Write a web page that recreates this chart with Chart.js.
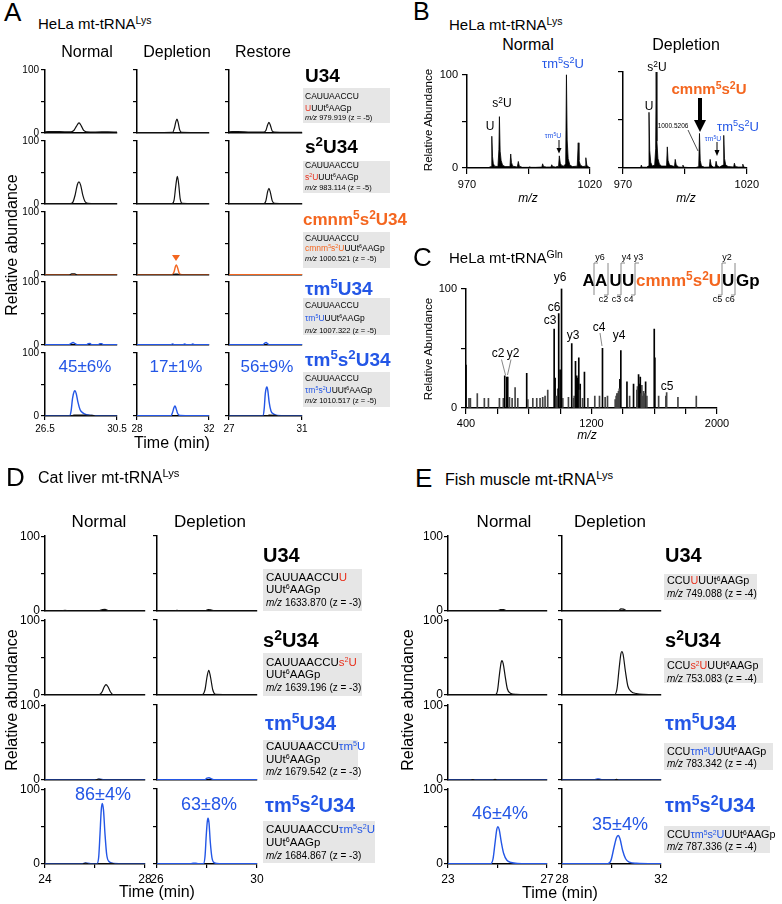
<!DOCTYPE html>
<html><head><meta charset="utf-8">
<script src="https://cdn.jsdelivr.net/npm/chart.js@4.4.1/dist/chart.umd.min.js"></script>
<style>
html,body{margin:0;padding:0;background:#fff;}
#fig{position:relative;width:782px;height:904px;overflow:hidden;background:#fff;font-family:'Liberation Sans',Arial,Helvetica,sans-serif;color:#000;}
#fig canvas{position:absolute;}
.t{position:absolute;white-space:nowrap;line-height:1;}
.t sup{font-size:0.7em;vertical-align:0.5em;line-height:0;}
.t.bx sup{font-size:0.62em;}
.box{position:absolute;background:#e6e6e6;}
.r{color:#e8301c}.o{color:#f4661f}.bl{color:#2356e6}
#ov{position:absolute;left:0;top:0;}
</style></head><body><div id="fig"></div>
<script>
// ================= DATA =================
const yTicks = [0, 50, 100];
const yTickLabels = ['0', '', '100'];

// ---- Panel A (HeLa) : time ranges / ticks ----
const A_xTicks = [[26.5, 30.5], [28, 32], [27, 31]];
const A_xTickLabels = [['26.5', '30.5'], ['28', '32'], ['27', '31']];
const A_percent = ['45±6%', '17±1%', '56±9%'];

const A_U34_normal = [[26.5,2],[27.0,2.3],[27.6,2],[27.95,2],[28.1,4],[28.25,11],[28.39,16],[28.52,11],[28.65,4],[28.8,2],[29.3,1.5],[30.0,1.8],[30.5,1.5]];
const A_U34_depletion = [[28,0.8],[29.5,0.8],[29.98,1],[30.08,8],[30.16,18],[30.22,22],[30.29,16],[30.37,5],[30.48,1],[31,0.8],[32,0.8]];
const A_U34_restore = [[27,2],[27.5,2.2],[28.2,1.5],[28.9,1.5],[29.02,4],[29.12,13],[29.19,17],[29.27,12],[29.37,3],[29.5,1.5],[30.2,1.2],[31,1.2]];

const A_s2U34_normal = [[26.5,0.5],[27.9,0.5],[28.05,3],[28.18,15],[28.3,31],[28.39,35],[28.48,30],[28.6,14],[28.72,4],[28.9,1],[29.3,0.5],[30.5,0.5]];
const A_s2U34_depletion = [[28,0.5],[29.95,0.5],[30.06,6],[30.16,30],[30.24,44],[30.31,33],[30.4,8],[30.52,1],[32,0.5]];
const A_s2U34_restore = [[27,0.5],[28.9,0.5],[29.02,5],[29.12,20],[29.19,25],[29.27,18],[29.37,5],[29.5,1],[31,0.5]];

const A_cmnm_normal = [[26.5,0.5],[30.5,0.5]];
const A_cmnm_normal_bk = [[26.5,0],[27.85,0],[27.98,1.8],[28.15,1.8],[28.3,0],[30.5,0]];
const A_cmnm_depletion = [[28,0.5],[29.95,0.5],[30.06,5],[30.14,14],[30.19,16],[30.26,11],[30.36,2],[30.5,0.5],[32,0.5]];
const A_cmnm_depletion_bk = [[28,0],[29.98,0],[30.1,1.5],[30.25,1.5],[30.35,0],[32,0]];
const A_cmnm_restore = [[27,0.5],[31,0.5]];

const A_tm5U_normal = [[26.5,0.3],[27.8,0.3],[27.95,2.5],[28.06,4],[28.18,2],[28.3,0.3],[28.8,0.3],[28.9,2],[29.0,2.3],[29.1,0.3],[29.45,0.3],[29.55,2],[29.65,2],[29.75,0.3],[30.5,0.3]];
const A_tm5U_depletion = [[28,0.3],[29.88,0.3],[29.98,1.8],[30.08,0.3],[30.55,0.3],[30.65,1.6],[30.75,0.3],[31.0,0.3],[31.1,1.5],[31.2,0.3],[32,0.3]];
const A_tm5U_restore = [[27,0.3],[28.85,0.3],[28.96,3],[29.03,4],[29.12,2],[29.22,0.3],[31,0.3]];

const A_tm5s2U_normal = [[26.5,0.3],[27.88,0.3],[27.95,8],[28.03,28],[28.12,39],[28.17,40],[28.24,35],[28.33,22],[28.45,10],[28.6,5],[28.8,2],[29.1,0.8],[29.4,0.3],[30.5,0.3]];
const A_tm5s2U_normal_bk = [[26.5,0],[27.95,0],[28.1,1.5],[28.4,1.5],[28.8,1.2],[29.1,1],[29.3,0],[30.5,0]];
const A_tm5s2U_depletion = [[28,0.3],[29.88,0.3],[29.97,5],[30.05,13],[30.11,16],[30.17,12],[30.26,4],[30.4,0.8],[32,0.3]];
const A_tm5s2U_restore = [[27,0.3],[28.87,0.3],[28.93,12],[28.99,36],[29.05,45],[29.08,46],[29.13,40],[29.2,22],[29.3,8],[29.45,3],[29.65,1],[31,0.3]];
const A_tm5s2U_restore_bk = [[27,0],[29.05,0],[29.2,1.3],[29.5,1],[29.7,0],[31,0]];

// ---- Panel D (cat liver) ----
const D_xTicks = [[24, 26, 28], [26, 28, 30]];
const D_xTickLabels = [['24', '', '28'], ['26', '', '30']];
const D_percent = ['86±4%', '63±8%'];
const D_U34_normal = [[24,0.3],[24.65,0.3],[24.8,1],[24.95,0.3],[26.15,0.3],[26.3,2],[26.4,2.3],[26.55,0.3],[28,0.3]];
const D_U34_depletion = [[26,0.3],[26.7,0.3],[26.8,0.8],[26.9,0.3],[27.9,0.3],[28.05,1.8],[28.15,1.5],[28.3,0.3],[30,0.3]];
const D_s2U34_normal = [[24,0.3],[26.15,0.3],[26.28,4],[26.37,11],[26.44,14],[26.52,11],[26.62,4],[26.75,0.3],[28,0.3]];
const D_s2U34_depletion = [[26,0.3],[27.8,0.3],[27.92,7],[28.0,24],[28.07,33],[28.14,24],[28.23,7],[28.35,0.8],[30,0.3]];
const D_tm5U_normal = [[24,0.3],[26.05,0.3],[26.2,1.2],[26.35,0.3],[28,0.3]];
const D_tm5U_normal_bk = [[24,0],[26.0,0],[26.15,1.2],[26.3,0],[28,0]];
const D_tm5U_depletion = [[26,0.3],[27.9,0.3],[28.0,2.5],[28.08,3],[28.18,1.5],[28.3,0.3],[30,0.3]];
const D_tm5s2U_normal = [[24,0.3],[25.5,0.3],[25.6,1.2],[25.7,1.2],[25.85,0.3],[26.08,0.5],[26.15,10],[26.2,40],[26.25,72],[26.29,81],[26.34,72],[26.4,40],[26.47,12],[26.57,3],[26.75,0.8],[28,0.3]];
const D_tm5s2U_normal_bk = [[24,0],[25.5,0],[25.62,1.2],[25.75,0],[26.5,0],[26.65,0.8],[26.8,0],[28,0]];
const D_tm5s2U_depletion = [[26,0.3],[27.35,0.3],[27.45,1],[27.55,1],[27.65,0.3],[27.86,0.5],[27.92,10],[27.97,38],[28.01,56],[28.04,61],[28.08,55],[28.13,30],[28.2,8],[28.3,1.5],[28.5,0.4],[30,0.3]];

// ---- Panel E (fish muscle) ----
const E_xTicks = [[23, 25, 27], [28, 30, 32]];
const E_xTickLabels = [['23', '', '27'], ['28', '', '32']];
const E_percent = ['46±4%', '35±4%'];
const E_U34_normal = [[23,0.3],[25.0,0.3],[25.12,1.8],[25.25,1.8],[25.38,0.3],[27,0.3]];
const E_U34_depletion = [[28,0.3],[29.8,0.3],[29.88,0.6],[29.96,0.3],[30.28,0.3],[30.38,2.8],[30.48,2.5],[30.6,0.5],[32,0.3]];
const E_s2U34_normal = [[23,0.3],[24.9,0.3],[25.0,6],[25.08,28],[25.15,44],[25.18,46],[25.23,42],[25.31,25],[25.4,8],[25.52,2.5],[25.75,0.8],[27,0.3]];
const E_s2U34_depletion = [[28,0.3],[30.12,0.3],[30.22,8],[30.31,36],[30.38,55],[30.42,58],[30.47,54],[30.56,32],[30.66,12],[30.8,4.5],[31.0,2],[31.3,0.8],[32,0.3]];
const E_tm5U_normal = [[23,0.3],[27,0.3]];
const E_tm5U_normal_bk = [[23,0],[23.9,0],[24.0,0.6],[24.1,0],[24.8,0],[24.9,0.8],[25.0,0],[27,0]];
const E_tm5U_depletion = [[28,0.3],[29.3,0.3],[29.42,1.5],[29.5,1.5],[29.62,0.3],[32,0.3]];
const E_tm5U_depletion_bk = [[28,0],[30.1,0],[30.2,0.8],[30.3,0],[32,0]];
const E_tm5s2U_normal = [[23,0.3],[24.72,0.3],[24.82,7],[24.9,28],[24.97,46],[25.02,50],[25.07,46],[25.15,30],[25.25,14],[25.38,5],[25.55,2],[25.8,0.8],[27,0.3]];
const E_tm5s2U_depletion = [[28,0.3],[29.85,0.3],[29.98,5],[30.1,22],[30.2,35],[30.27,38],[30.34,34],[30.45,18],[30.57,7],[30.72,2.5],[31.0,1],[32,0.3]];

// ---- Panel B (MS spectra, m/z vs relative abundance) ----
const B_xTicks = [970, 995, 1020];
const B_xTickLabels = ['970', '', '1020'];
const B_normal = [[970,0.5],[978.8,0.5],[979.8,1.5],[980.1,34],[980.4,12],[980.7,5],[981.2,2],[982.6,1.5],[983.0,20],[983.2,55],[983.5,18],[983.9,8],[984.5,3],[985.5,1.5],[987.5,1.5],[987.8,15],[988.1,6],[988.6,2],[990.5,1],[990.9,7],[991.3,2],[992.5,0.7],[995.3,0.7],[995.6,1.5],[995.9,0.7],[998,0.7],[1000.5,1],[1000.8,4.5],[1001.2,1.5],[1002.3,1],[1004.2,1],[1004.5,3.5],[1004.9,1.5],[1006,1],[1007.3,2],[1007.6,13],[1008.0,5],[1008.6,2.5],[1009.6,2],[1010.2,5],[1010.5,100],[1010.8,30],[1011.2,10],[1011.9,3],[1013,1.5],[1014.9,2],[1015.3,27],[1015.6,8],[1016.2,3],[1017.2,1.5],[1018.1,2],[1018.4,11],[1018.8,3],[1019.5,1],[1020,0.5]];
const B_depletion = [[970,0.3],[976.5,0.3],[977.2,0.8],[977.4,3],[977.7,0.8],[979.5,0.8],[980.2,2],[980.5,58],[980.8,18],[981.2,6],[981.8,2],[982.8,3],[983.2,20],[983.4,100],[983.7,28],[984.1,10],[984.7,4],[985.6,2],[987.6,2],[987.9,22],[988.2,8],[988.8,3],[990.8,1.5],[991.1,9],[991.5,3],[992.5,1],[993.9,0.8],[994.2,3],[994.6,0.8],[996.5,0.5],[999.5,0.5],[1000.6,1.5],[1000.9,36],[1001.2,8],[1001.7,2],[1003,0.8],[1004.9,1],[1005.2,9],[1005.6,3],[1006.4,1],[1007.3,1],[1007.6,7],[1008.0,2.5],[1009,1],[1010.4,3],[1010.7,34],[1011.0,10],[1011.5,3],[1012.5,1.5],[1014.7,1],[1015.0,5],[1015.4,1.5],[1016.5,1],[1018.1,1],[1018.4,4],[1018.8,1],[1020,0.3]];

// ---- Panel C (MS/MS spectrum) ----
const C_xTicks = [400, 600, 800, 1000, 1200, 1400, 1600, 1800, 2000];
const C_xTickLabels = ['400', '', '', '', '1200', '', '', '', '2000'];
const C_mz = [400,419,428,472,517,543,613,638,647,660,666,677,694,713,730,787,794,826,851,872,889,904,921,962,968,985,991,1000,1009,1017,1053,1074,1085,1098,1106,1119,1128,1143,1155,1177,1221,1251,1270,1287,1302,1351,1362,1372,1381,1387,1426,1443,1468,1489,1500,1511,1521,1532,1545,1553,1600,1604,1628,1674,1679,1751,1868,975,1090,1111,1124,1357,1366,1377,1493,1505,1517,1527,1540];
const C_intensity = [36,8,8,12,8,8,8,8,27,26,26,9,8,17,8,29,7,8,8,8,9,10,15,66,25,16,79,32,100,8,9,54,8,39,27,42,20,8,30,8,10,10,50,9,10,7,12,14,24,48,22,10,20,15,28,26,19,14,22,10,66,42,10,10,13,9,10,10,10,25,15,10,12,16,18,20,12,10,12];

// ================= RENDERING =================
const fig = document.getElementById('fig');
Chart.defaults.font.family = "'Liberation Sans', Arial, Helvetica, sans-serif";
Chart.defaults.color = '#000';
const COL = {k: '#111111', b: '#2356e6', o: '#f4661f'};
const BLUE = '#2356e6', ORANGE = '#f4661f';
const toXY = a => a.map(p => ({x: p[0], y: p[1]}));

function mk(cfg) {
  const YW = cfg.YW, PT = 8, PR = cfg.PR, XH = cfg.XH;
  const c = document.createElement('canvas');
  const W = YW + cfg.w + PR, H = PT + cfg.h + XH;
  c.width = W; c.height = H;
  c.style.left = (cfg.x - YW) + 'px'; c.style.top = (cfg.y - PT) + 'px';
  c.style.width = W + 'px'; c.style.height = H + 'px';
  fig.appendChild(c);
  const xt = cfg.xTicks;
  new Chart(c, {
    type: cfg.type || 'line',
    data: {datasets: cfg.datasets},
    options: {
      responsive: false, animation: false, events: [], devicePixelRatio: 1,
      layout: {padding: {left: 0, top: PT, right: PR, bottom: 0}},
      plugins: {legend: {display: false}, tooltip: {enabled: false}},
      elements: {point: {radius: 0}},
      scales: {
        x: {type: 'linear', min: xt[0], max: xt[xt.length - 1], offset: false,
          afterFit: s => { s.height = XH; },
          afterBuildTicks: s => { s.ticks = xt.map(v => ({value: v})); },
          ticks: {display: cfg.showX, autoSkip: false, maxRotation: 0, minRotation: 0, padding: cfg.xPad,
            font: {size: cfg.font}, color: '#000', callback: (v, i) => cfg.xLabels[i]},
          grid: {display: true, drawOnChartArea: false, drawTicks: cfg.showX, tickLength: cfg.xTL, color: '#000', lineWidth: 1.2, offset: false},
          border: {display: true, color: '#000', width: 1.5}},
        y: {type: 'linear', min: 0, max: 100,
          afterFit: s => { s.width = YW; },
          afterBuildTicks: s => { s.ticks = yTicks.map(v => ({value: v})); },
          ticks: {display: cfg.showY, padding: cfg.yPad, font: {size: cfg.font}, color: '#000', callback: (v, i) => yTickLabels[i]},
          grid: {display: true, drawOnChartArea: false, drawTicks: true, tickLength: cfg.yTL, color: '#000', lineWidth: 1.2},
          border: {display: true, color: '#000', width: 1.5}}
      }
    }
  });
}
function lineSets(list) {
  return list.map(([arr, k]) => ({data: toXY(arr), borderColor: COL[k], borderWidth: k === 'k' ? 1.2 : 1.4,
    fill: false, pointRadius: 0, cubicInterpolationMode: 'monotone'}));
}

// ---- Panel A charts ----
const A_colX = [45, 137, 229], A_colW = [72, 72, 73];
const A_rowY = [70, 141, 212, 282, 353], A_rowH = 63;
const A_grid = [
  [[[A_U34_normal,'k']], [[A_U34_depletion,'k']], [[A_U34_restore,'k']]],
  [[[A_s2U34_normal,'k']], [[A_s2U34_depletion,'k']], [[A_s2U34_restore,'k']]],
  [[[A_cmnm_normal_bk,'k'],[A_cmnm_normal,'o']], [[A_cmnm_depletion_bk,'k'],[A_cmnm_depletion,'o']], [[A_cmnm_restore,'o']]],
  [[[A_tm5U_normal,'b']], [[A_tm5U_depletion,'b']], [[A_tm5U_restore,'b']]],
  [[[A_tm5s2U_normal_bk,'k'],[A_tm5s2U_normal,'b']], [[A_tm5s2U_depletion,'b']], [[A_tm5s2U_restore_bk,'k'],[A_tm5s2U_restore,'b']]]
];
A_grid.forEach((row, r) => row.forEach((sets, c) => {
  mk({x: A_colX[c], y: A_rowY[r], w: A_colW[c], h: A_rowH, YW: 30, PR: 14, XH: r === 4 ? 18 : 8,
    xTicks: A_xTicks[c], xLabels: A_xTickLabels[c], showX: r === 4, showY: c === 0,
    font: 10, xPad: 3, yPad: 2, xTL: 4, yTL: 4, datasets: lineSets(sets)});
}));

// ---- Panel D / E charts ----
const DE_rowY = [536, 620, 705, 789], DE_rowH = 75;
const D_colX = [45, 157], D_colW = [100, 100];
const E_colX = [448, 562], E_colW = [99, 99];
const D_grid = [
  [[[D_U34_normal,'k']], [[D_U34_depletion,'k']]],
  [[[D_s2U34_normal,'k']], [[D_s2U34_depletion,'k']]],
  [[[D_tm5U_normal_bk,'k'],[D_tm5U_normal,'b']], [[D_tm5U_depletion,'b']]],
  [[[D_tm5s2U_normal_bk,'k'],[D_tm5s2U_normal,'b']], [[D_tm5s2U_depletion,'b']]]
];
const E_grid = [
  [[[E_U34_normal,'k']], [[E_U34_depletion,'k']]],
  [[[E_s2U34_normal,'k']], [[E_s2U34_depletion,'k']]],
  [[[E_tm5U_normal_bk,'k'],[E_tm5U_normal,'b']], [[E_tm5U_depletion_bk,'k'],[E_tm5U_depletion,'b']]],
  [[[E_tm5s2U_normal,'b']], [[E_tm5s2U_depletion,'b']]]
];
[[D_grid, D_colX, D_colW, D_xTicks, D_xTickLabels], [E_grid, E_colX, E_colW, E_xTicks, E_xTickLabels]].forEach(([grid, cx, cw, xt, xl]) => {
  grid.forEach((row, r) => row.forEach((sets, c) => {
    mk({x: cx[c], y: DE_rowY[r], w: cw[c], h: DE_rowH, YW: 32, PR: 14, XH: r === 3 ? 21 : 9,
      xTicks: xt[c], xLabels: xl[c], showX: r === 3, showY: c === 0,
      font: 12, xPad: 4, yPad: 1, xTL: 4, yTL: 4, datasets: lineSets(sets)});
  }));
});

// ---- Panel B spectra ----
[[B_normal, 467, 123, true], [B_depletion, 623, 124, false]].forEach(([arr, x, w, showY]) => {
  mk({x: x, y: 72, w: w, h: 96, YW: 34, PR: 16, XH: 24, xTicks: B_xTicks, xLabels: B_xTickLabels,
    showX: true, showY: showY, font: 11, xPad: 4, yPad: 4, xTL: 6, yTL: 5,
    datasets: [{data: toXY(arr), borderColor: '#000', backgroundColor: '#000', borderWidth: 0.8, fill: 'origin', tension: 0, pointRadius: 0}]});
});

// ---- Panel C spectrum ----
mk({type: 'bar', x: 466, y: 286, w: 251, h: 122, YW: 34, PR: 18, XH: 22, xTicks: C_xTicks, xLabels: C_xTickLabels,
  showX: true, showY: true, font: 11, xPad: 3, yPad: 4, xTL: 6, yTL: 5,
  datasets: [{data: C_mz.map((m, i) => ({x: m, y: C_intensity[i]})), barThickness: 1, borderWidth: 0,
    backgroundColor: ctx => (ctx.raw && ctx.raw.y >= 20) ? '#000' : '#444'}]});

// ================= TEXT =================
function T(html, x, yc, size, o = {}) {
  const d = document.createElement('div');
  d.className = 't' + (o.cls ? ' ' + o.cls : ''); d.innerHTML = html;
  d.style.left = x + 'px'; d.style.top = (yc - 0.49 * size) + 'px'; d.style.fontSize = size + 'px';
  if (o.bold) d.style.fontWeight = 'bold';
  if (o.color) d.style.color = o.color;
  if (o.italic) d.style.fontStyle = 'italic';
  if (o.align === 'c') d.style.transform = 'translateX(-50%)';
  if (o.align === 'r') d.style.transform = 'translateX(-100%)';
  fig.appendChild(d);
}
function RT(html, xc, yc, size) {
  const d = document.createElement('div');
  d.className = 't'; d.innerHTML = html;
  d.style.left = xc + 'px'; d.style.top = yc + 'px'; d.style.fontSize = size + 'px';
  d.style.transform = 'translate(-50%,-50%) rotate(-90deg)';
  fig.appendChild(d);
}
function BOX(x, y, w, h) {
  const d = document.createElement('div');
  d.className = 'box';
  d.style.left = x + 'px'; d.style.top = y + 'px'; d.style.width = w + 'px'; d.style.height = h + 'px';
  fig.appendChild(d);
}
const C = 'c';
const r = s => `<span class="r">${s}</span>`;
const o = s => `<span class="o">${s}</span>`;
const bl = s => `<span class="bl">${s}</span>`;
const mzs = s => `<i>m/z</i> ${s}`;
const ut6 = 'UUt<sup>6</sup>AAGp';

// Panel letters & titles
T('A', 4, 12, 26); T('B', 413, 11, 25); T('C', 413, 257, 26); T('D', 6, 477, 26); T('E', 415, 478, 26);
T('HeLa mt-tRNA<sup>Lys</sup>', 38, 23, 15);
T('HeLa mt-tRNA<sup>Lys</sup>', 449, 24, 15);
T('HeLa mt-tRNA<sup>Gln</sup>', 449, 257, 15);
T('Cat liver mt-tRNA<sup>Lys</sup>', 38, 478, 16);
T('Fish muscle mt-tRNA<sup>Lys</sup>', 445, 480, 16);

// Column headers
T('Normal', 87, 52, 16, {align: C}); T('Depletion', 177, 52, 16, {align: C}); T('Restore', 263, 52, 16, {align: C});
T('Normal', 528, 45, 16, {align: C}); T('Depletion', 686, 45, 16, {align: C});
T('Normal', 99, 521, 17, {align: C}); T('Depletion', 210, 521, 17, {align: C});
T('Normal', 504, 521, 17, {align: C}); T('Depletion', 610, 521, 17, {align: C});

// Axis titles
RT('Relative abundance', 12, 245, 16); T('Time (min)', 172, 443, 16, {align: C});
RT('Relative abundance', 12, 700, 16); T('Time (min)', 157, 892, 16, {align: C});
RT('Relative abundance', 408, 700, 16); T('Time (min)', 560, 893, 16, {align: C});
RT('Relative Abundance', 429, 120, 11.5);
T('<i>m/z</i>', 528, 198, 12, {align: C}); T('<i>m/z</i>', 686, 198, 12, {align: C});
RT('Relative Abundance', 429, 349, 11.5);
T('<i>m/z</i>', 587, 435, 12, {align: C});

// Percentages
[85, 176, 267].forEach((x, i) => T(A_percent[i], x, 366, 17, {align: C, color: BLUE}));
T(D_percent[0], 103, 794, 18, {align: C, color: BLUE}); T(D_percent[1], 209, 804, 18, {align: C, color: BLUE});
T(E_percent[0], 500, 813, 18, {align: C, color: BLUE}); T(E_percent[1], 620, 824, 18, {align: C, color: BLUE});

// Panel A row labels and boxes
T('U34', 305, 75, 19, {bold: true});
T('s<sup>2</sup>U34', 305, 146, 19, {bold: true});
T('cmnm<sup>5</sup>s<sup>2</sup>U34', 303, 219, 17, {bold: true, color: ORANGE});
T('τm<sup>5</sup>U34', 305, 288, 19, {bold: true, color: BLUE});
T('τm<sup>5</sup>s<sup>2</sup>U34', 305, 359, 19, {bold: true, color: BLUE});
const A_boxes = [
  [88, 35, ['CAUUAACCU', r('U') + ut6, mzs('979.919 (z = -5)')], [96, 108, 118]],
  [161, 32, ['CAUUAACCU', r('s<sup>2</sup>U') + ut6, mzs('983.114 (z = -5)')], [165, 177, 188]],
  [232, 36, ['CAUUAACCU', o('cmnm<sup>5</sup>s<sup>2</sup>U') + ut6, mzs('1000.521 (z = -5)')], [238, 248, 259]],
  [298, 37, ['CAUUAACCU', bl('τm<sup>5</sup>U') + ut6, mzs('1007.322 (z = -5)')], [305, 318, 331]],
  [372, 35, ['CAUUAACCU', bl('τm<sup>5</sup>s<sup>2</sup>U') + ut6, mzs('1010.517 (z = -5)')], [378, 390, 401]]
];
A_boxes.forEach(([y, h, lines, ys]) => {
  BOX(303, y, 87, h);
  lines.forEach((l, i) => T(l, 305, ys[i], i === 2 ? 7.5 : 8.5, {cls: 'bx'}));
});

// Panel D labels and boxes
T('U34', 263, 555, 20, {bold: true});
T('s<sup>2</sup>U34', 263, 640, 20, {bold: true});
T('τm<sup>5</sup>U34', 265, 723, 20, {bold: true, color: BLUE});
T('τm<sup>5</sup>s<sup>2</sup>U34', 265, 805, 20, {bold: true, color: BLUE});
const D_boxes = [
  [569, 99, 42, ['CAUUAACCU' + r('U'), ut6, mzs('1633.870 (z = -3)')], [578, 590, 603]],
  [653, 99, 43, ['CAUUAACCU' + r('s<sup>2</sup>U'), ut6, mzs('1639.196 (z = -3)')], [663, 675, 688]],
  [740, 95, 40, ['CAUUAACCU' + bl('τm<sup>5</sup>U'), ut6, mzs('1679.542 (z = -3)')], [747, 760, 772]],
  [821, 112, 42, ['CAUUAACCU' + bl('τm<sup>5</sup>s<sup>2</sup>U'), ut6, mzs('1684.867 (z = -3)')], [830, 843, 856]]
];
D_boxes.forEach(([y, w, h, lines, ys]) => {
  BOX(263, y, w, h);
  lines.forEach((l, i) => T(l, 266, ys[i], i === 2 ? 10 : 11.5, {cls: 'bx'}));
});

// Panel E labels and boxes
T('U34', 665, 555, 20, {bold: true});
T('s<sup>2</sup>U34', 665, 640, 20, {bold: true});
T('τm<sup>5</sup>U34', 665, 723, 20, {bold: true, color: BLUE});
T('τm<sup>5</sup>s<sup>2</sup>U34', 665, 805, 20, {bold: true, color: BLUE});
const E_boxes = [
  [574, 93, 26, ['CCU' + r('U') + ut6, mzs('749.088 (z = -4)')], [580, 594]],
  [658, 99, 25, ['CCU' + r('s<sup>2</sup>U') + ut6, mzs('753.083 (z = -4)')], [665, 679]],
  [743, 109, 27, ['CCU' + bl('τm<sup>5</sup>U') + ut6, mzs('783.342 (z = -4)')], [751, 764]],
  [826, 106, 27, ['CCU' + bl('τm<sup>5</sup>s<sup>2</sup>U') + ut6, mzs('787.336 (z = -4)')], [834, 847]]
];
E_boxes.forEach(([y, w, h, lines, ys]) => {
  BOX(664, y, w, h);
  lines.forEach((l, i) => T(l, 667, ys[i], i === 1 ? 10 : 10.8, {cls: 'bx'}));
});

// Panel B annotations
T('U', 490, 126, 12, {align: C}); T('s<sup>2</sup>U', 502, 103, 12, {align: C});
T('τm<sup>5</sup>s<sup>2</sup>U', 563, 63, 13, {align: C, color: BLUE});
T('τm<sup>5</sup>U', 553, 135, 7, {align: C, color: BLUE});
T('U', 649, 106, 12, {align: C}); T('s<sup>2</sup>U', 657, 67, 12, {align: C});
T('cmnm<sup>5</sup>s<sup>2</sup>U', 709, 88, 15, {align: C, bold: true, color: ORANGE});
T('1000.5206', 673, 126, 6.5, {align: C});
T('τm<sup>5</sup>U', 713, 138, 7, {align: C, color: BLUE});
T('τm<sup>5</sup>s<sup>2</sup>U', 738, 126, 13, {align: C, color: BLUE});

// Panel C annotations
T('y6', 560, 277, 12, {align: C}); T('c6', 554, 307, 12, {align: C}); T('c3', 550, 320, 12, {align: C});
T('y3', 573, 335, 12, {align: C}); T('c4', 599, 327, 12, {align: C}); T('y4', 619, 335, 12, {align: C});
T('c2', 498, 353, 12, {align: C}); T('y2', 513, 353, 12, {align: C}); T('c5', 667, 386, 12, {align: C});
// sequence
T('A', 582.5, 280, 17, {bold: true}); T('A', 595, 280, 17, {bold: true});
T('U', 609.5, 280, 17, {bold: true}); T('U', 622, 280, 17, {bold: true});
T('cmnm<sup>5</sup>s<sup>2</sup>U', 636, 280, 17, {bold: true, color: ORANGE});
T('U', 722, 280, 17, {bold: true}); T('Gp', 736, 280, 17, {bold: true});
T('y6', 600, 257, 9, {align: C}); T('y4', 626.5, 257, 9, {align: C}); T('y3', 638.5, 257, 9, {align: C}); T('y2', 727, 257, 9, {align: C});
T('c2', 603.5, 299, 9, {align: C}); T('c3', 616.5, 299, 9, {align: C}); T('c4', 628.7, 299, 9, {align: C});
T('c5', 717.5, 299, 9, {align: C}); T('c6', 730, 299, 9, {align: C});

// ================= OVERLAY (arrows, brackets) =================
const brackets = [[594, true, false], [608, false, true], [621, true, true], [635, true, true], [722, true, true], [735, false, true]];
let br = '';
brackets.forEach(([x, top, bot]) => {
  const pts = [];
  if (top) pts.push(`${x + 4},263`);
  pts.push(`${x},263`, `${x},295`);
  if (bot) pts.push(`${x - 4},295`);
  br += `<polyline points="${pts.join(' ')}" fill="none" stroke="#888" stroke-width="1"/>`;
});
const ov = `<svg id="ov" width="782" height="904" xmlns="http://www.w3.org/2000/svg">
<polygon points="172,255 180,255 176,261" fill="${ORANGE}"/>
<line x1="559" y1="140" x2="559" y2="149" stroke="#000" stroke-width="1"/>
<polygon points="556.5,148 561.5,148 559,153.5" fill="#000"/>
<line x1="717" y1="142" x2="717" y2="151" stroke="#000" stroke-width="1"/>
<polygon points="714.5,150 719.5,150 717,156" fill="#000"/>
<line x1="700" y1="98" x2="700" y2="122" stroke="#000" stroke-width="4"/>
<polygon points="694,120 706,120 700,132" fill="#000"/>
<line x1="688" y1="130" x2="698" y2="151" stroke="#000" stroke-width="0.7"/>
<line x1="501.5" y1="359.5" x2="505.5" y2="375" stroke="#555" stroke-width="0.7"/>
<line x1="511" y1="359.5" x2="507.5" y2="375" stroke="#555" stroke-width="0.7"/>
<line x1="600" y1="333" x2="602" y2="346" stroke="#555" stroke-width="0.7"/>
${br}
</svg>`;
fig.insertAdjacentHTML('beforeend', ov);
</script></body></html>
